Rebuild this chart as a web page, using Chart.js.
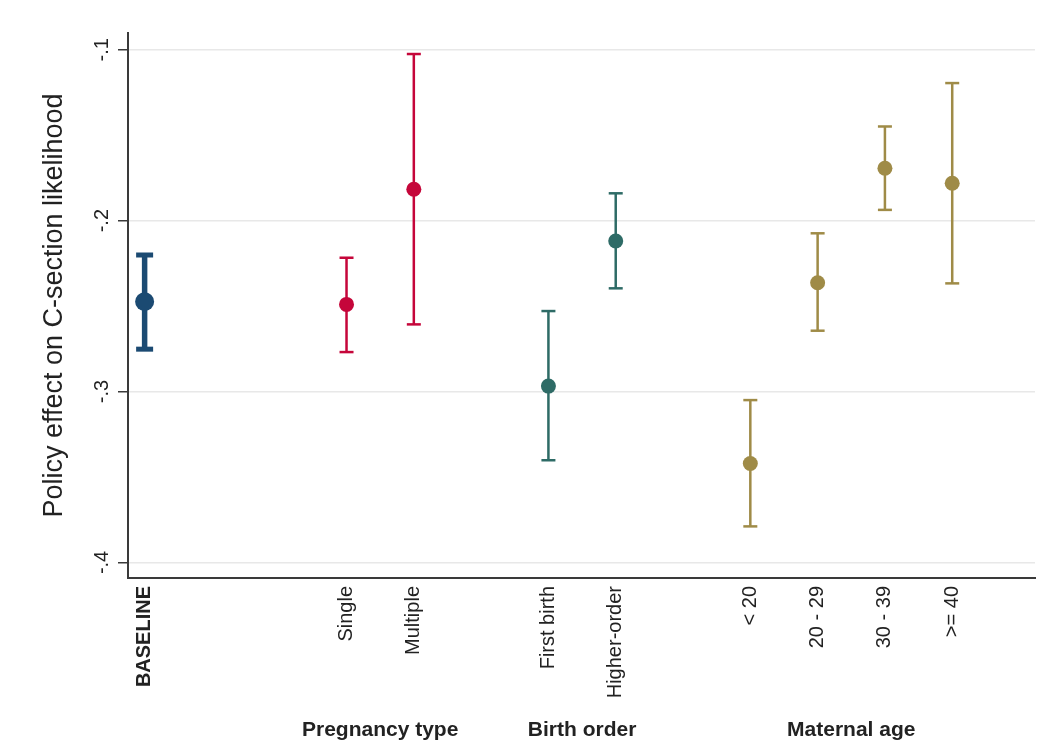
<!DOCTYPE html>
<html>
<head>
<meta charset="utf-8">
<script src="https://cdn.jsdelivr.net/npm/chart.js@4.4.1/dist/chart.umd.min.js"></script>
<style>
  body { margin: 0; background: #fff; }
  #wrap { width: 1056px; height: 742px; }
</style>
</head>
<body>
<div id="wrap"><canvas id="chart" width="1056" height="742"></canvas></div>
<script>
// categories and where they sit on the x axis
const labels = ['BASELINE', 'Single', 'Multiple', 'First birth', 'Higher-order', '< 20', '20 - 29', '30 - 39', '>= 40'];
const positions = [0, 3, 4, 6, 7, 9, 10, 11, 12];
const groupOf = [0, 1, 1, 2, 2, 3, 3, 3, 3];
const groupNames = ['', 'Pregnancy type', 'Birth order', 'Maternal age'];

// point estimates and confidence bounds
const estimates = [-0.2474, -0.2490, -0.1816, -0.2968, -0.2119, -0.3421, -0.2363, -0.1693, -0.1781];
const lower = [-0.2752, -0.2769, -0.2607, -0.3402, -0.2396, -0.3789, -0.2644, -0.1937, -0.2367];
const upper = [-0.2201, -0.2217, -0.1025, -0.2529, -0.1840, -0.3050, -0.2074, -0.1449, -0.1195];

const yTicks = [-0.4, -0.3, -0.2, -0.1];
const yTickLabels = ['-.4', '-.3', '-.2', '-.1'];

const groupColors = ['#1b4a72', '#c5063a', '#2e6b66', '#9f8b47'];
const FONT = "'Liberation Sans', Arial, sans-serif";

const pointSets = [], capSets = [], whiskerSets = [];
groupNames.forEach((name, g) => {
  const idx = labels.map((l, i) => i).filter(i => groupOf[i] === g);
  const base = g === 0;
  const col = groupColors[g];
  pointSets.push({
    data: idx.map(i => ({ x: positions[i], y: estimates[i] })),
    backgroundColor: col, borderColor: col, borderWidth: 0,
    pointRadius: base ? 9.5 : 7.5
  });
  capSets.push({
    data: idx.flatMap(i => [{ x: positions[i], y: lower[i] }, { x: positions[i], y: upper[i] }]),
    pointStyle: 'line', borderColor: col, borderWidth: base ? 5 : 2.5,
    pointRadius: base ? 8.5 : 7
  });
  const segs = [];
  idx.forEach(i => {
    segs.push({ x: positions[i], y: lower[i] }, { x: positions[i], y: upper[i] }, { x: positions[i], y: null });
  });
  whiskerSets.push({
    data: segs, showLine: true, spanGaps: false,
    borderColor: col, borderWidth: base ? 5.5 : 2.5, pointRadius: 0
  });
});

const extraText = {
  id: 'extraText',
  afterDraw(chart) {
    const ctx = chart.ctx;
    const ys = chart.scales.y, xs = chart.scales.x;
    ctx.save();
    ctx.fillStyle = '#222';
    ctx.font = '20px ' + FONT;
    ctx.textAlign = 'center';
    ctx.textBaseline = 'middle';
    yTicks.forEach((v, i) => {
      ctx.save();
      ctx.translate(102, ys.getPixelForValue(v));
      ctx.rotate(-Math.PI / 2);
      ctx.fillText(yTickLabels[i], 0, 0);
      ctx.restore();
    });
    ctx.font = 'bold 21px ' + FONT;
    ctx.textBaseline = 'alphabetic';
    groupNames.forEach((name, g) => {
      if (!name) return;
      const p = positions.filter((v, i) => groupOf[i] === g);
      const mid = (Math.min(...p) + Math.max(...p)) / 2;
      ctx.fillText(name, xs.getPixelForValue(mid), 736);
    });
    ctx.restore();
  }
};

new Chart(document.getElementById('chart'), {
  type: 'scatter',
  data: { datasets: [...pointSets, ...capSets, ...whiskerSets] },
  options: {
    responsive: false,
    animation: false,
    layout: { padding: { top: 33, right: 21, left: 0, bottom: 0 } },
    plugins: { legend: { display: false }, tooltip: { enabled: false } },
    scales: {
      x: {
        type: 'linear', min: -0.247, max: 13.23,
        afterBuildTicks: s => { s.ticks = positions.map(v => ({ value: v })); },
        afterFit: s => { s.height = 164; },
        grid: { display: false },
        border: { display: true, color: '#3a3a3a', width: 2 },
        ticks: {
          autoSkip: false, minRotation: 90, maxRotation: 90, padding: 0,
          color: '#222',
          font: ctx => ({ family: FONT, size: 20, weight: ctx.tick && ctx.tick.value === 0 ? 'bold' : 'normal' }),
          callback: v => labels[positions.indexOf(v)]
        }
      },
      y: {
        min: -0.4091, max: -0.0902,
        afterBuildTicks: s => { s.ticks = yTicks.map(v => ({ value: v })); },
        afterFit: s => { s.width = 128; },
        grid: { color: '#e8e8e8', lineWidth: 1.5, tickLength: 10, tickColor: '#3a3a3a', tickWidth: 1.5 },
        border: { display: true, color: '#3a3a3a', width: 2 },
        ticks: { display: false },
        title: {
          display: true, text: 'Policy effect on C-section likelihood',
          color: '#222', font: { family: FONT, size: 27 },
          padding: { top: 38, bottom: 0 }
        }
      }
    }
  },
  plugins: [extraText]
});
</script>
</body>
</html>
